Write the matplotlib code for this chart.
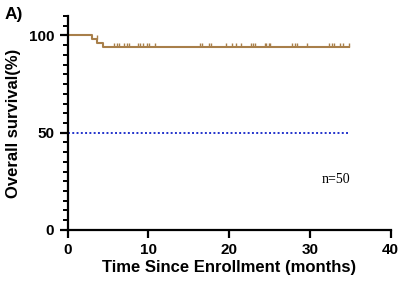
import numpy as np
import matplotlib.pyplot as plt

# Kaplan-Meier data (months)
event_times = [3.0, 3.7, 4.4]          # deaths
n_total = 50
censor_times = [3.6, 5.7, 6.1, 6.4, 7.0, 7.3, 7.55, 8.7, 9.0, 9.4, 9.85, 10.1, 10.85,
                16.4, 16.7, 17.45, 17.8, 19.6, 20.4, 20.8, 21.5, 22.65, 22.9, 23.15,
                24.4, 24.6, 24.9, 25.1, 27.75, 28.1, 28.35, 29.6, 32.4, 32.7, 32.95,
                33.7, 34.1, 34.8]
last_time = 34.8

LINE_COLOR = '#A87F4A'
REF_COLOR = '#2233CC'

# build survival steps
times = [0.0]
surv = [100.0]
at_risk = n_total
for t in event_times:
    times.append(t)
    at_risk_here = at_risk - sum(1 for c in censor_times if c < t)
    surv.append(surv[-1] * (1 - 1.0 / at_risk_here))
    at_risk -= 1
times.append(last_time)
surv.append(surv[-1])
surv = [round(s) for s in surv]

def surv_at(t):
    s = surv[0]
    for ti, si in zip(times, surv):
        if ti <= t:
            s = si
    return s

fig = plt.figure(figsize=(4.02, 2.91), dpi=100)
ax = fig.add_axes([0.168, 0.21, 0.804, 0.735])

ax.step(times, surv, where='post', color=LINE_COLOR, linewidth=1.5)
ax.plot(censor_times, [surv_at(c) for c in censor_times], linestyle='none',
        marker=2, markersize=3, markeredgewidth=1.0, color=LINE_COLOR)
ax.plot([0, 35], [50, 50], linestyle=(0, (1, 1.2)), color=REF_COLOR, linewidth=1.4)

ax.set_xlim(0, 40)
ax.set_ylim(0, 110)
ax.set_xticks([0, 10, 20, 30, 40])
ax.set_yticks([0, 50, 100])
ax.set_yticks(np.arange(0, 111, 5), minor=True)
ax.spines['top'].set_visible(False)
ax.spines['right'].set_visible(False)
ax.spines['left'].set_linewidth(1.6)
ax.spines['bottom'].set_linewidth(1.6)
ax.tick_params(axis='both', which='major', length=6, width=1.6, labelsize=11)
ax.tick_params(axis='y', which='minor', length=3.5, width=1.4)
for lab in ax.get_xticklabels() + ax.get_yticklabels():
    lab.set_fontfamily('Liberation Sans')
    lab.set_fontweight('bold')

ax.set_xlabel('Time Since Enrollment (months)', fontsize=12, fontweight='bold',
              fontfamily='Liberation Sans', labelpad=2)
ax.set_ylabel('Overall survival(%)', fontsize=12, fontweight='bold',
              fontfamily='Liberation Sans', labelpad=6)
ax.text(31.5, 24, 'n=50', fontsize=10, fontfamily='Liberation Serif')
fig.text(0.012, 0.975, 'A)', fontsize=12.5, fontweight='bold', fontfamily='Liberation Sans',
         va='top')

fig.savefig('out.png', dpi=100)
